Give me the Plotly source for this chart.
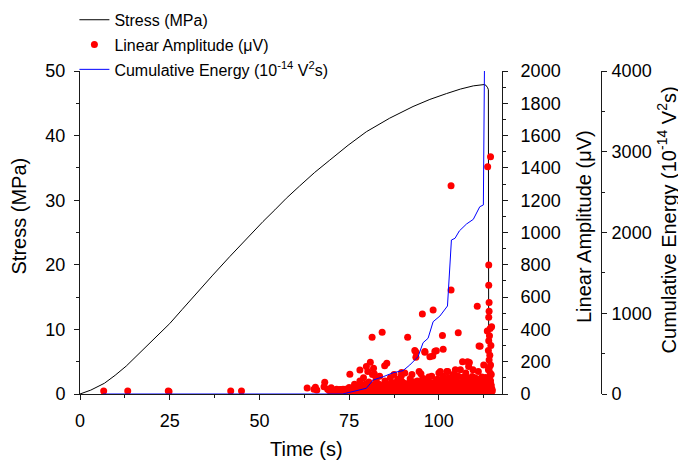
import plotly.graph_objects as go

# ---------------- data ----------------
stress_time = [0, 3.0, 6.8, 9.8, 12.9, 15.6, 18.5, 21.7, 25.0, 28.5, 32.4, 37.0, 41.7,
               46.3, 51.0, 54.3, 57.5, 61.2, 65.4, 69.6, 74.7, 79.8, 86.3, 92.8, 97.5,
               102.1, 106.0, 109.6, 111.5, 112.6, 113.1, 113.4, 113.6, 113.8, 113.9]
stress_mpa = [0, 0.6, 1.66, 2.9, 4.33, 5.8, 7.3, 9.0, 10.9, 13.1, 15.6, 18.4, 21.25,
              24.0, 26.7, 28.5, 30.3, 32.2, 34.3, 36.2, 38.5, 40.6, 42.7, 44.5, 45.6,
              46.5, 47.2, 47.7, 47.85, 47.9, 47.8, 47.6, 47.4, 47.1, 0]

energy_time = [6.4, 24.6, 45.0, 63.3, 73.2, 79.8, 81.7, 84.5, 87.3, 90.0, 91.9, 94.2,
               95.6, 97.0, 98.4, 100.3, 102.4, 103.5, 104.5, 105.7, 107.7, 109.6,
               111.4, 112.4, 112.7]
energy_val = [0, 0, 0, 0, 0, 71, 173, 214, 264, 289, 359, 462,
              635, 690, 895, 966, 1090, 1907, 1928, 2019, 2105, 2163,
              2319, 2341, 4000]

amp_time = [
    6.6, 13.3, 24.6, 24.8, 42.0, 45.0,
    63.3, 65.2, 65.6, 66.0, 68.2, 68.0, 69.0, 69.5, 70.0, 70.5, 71.0, 71.5, 72.0, 72.5,
    73.0, 73.5, 74.0, 74.5, 75.0, 75.2, 75.5, 76.0, 76.5, 77.0, 77.5, 78.0, 78.0, 78.5,
    79.0, 79.5, 79.8, 80.2, 80.5, 80.9, 81.4, 81.5, 81.8, 82.0, 82.5, 83.0, 83.5, 84.2,
    84.9, 85.5, 85.0, 86.0, 86.5, 87.0, 87.5, 88.0, 88.5, 89.0, 89.5, 89.6, 90.0, 90.5,
    91.3, 91.0, 92.0, 92.5, 93.3, 93.6, 93.6, 93.0, 94.0, 94.5, 95.0, 95.4, 95.0, 96.1,
    96.1, 96.5, 97.5, 98.3, 98.4, 98.9, 99.3, 98.0, 99.0, 100.0, 100.4, 100.5, 101.0,
    101.2, 101.5, 102.0, 102.2, 102.5, 103.4, 103.4, 103.0, 104.0, 104.5, 104.6, 105.4,
    105.0, 106.0, 106.6, 107.0, 107.5, 108.0, 108.3, 108.5, 109.0, 109.5, 110.7, 110.0,
    111.0, 111.2, 111.5, 112.0, 112.5,
    113.6, 114.4, 113.9, 113.9, 114.0, 114.0, 113.9, 114.7, 113.5, 114.3, 114.1, 113.9,
    114.5, 113.8, 114.2, 114.0, 114.4, 113.8, 114.6, 114.1, 113.9, 114.5, 114.2, 113.7,
    114.8, 114.3, 113.6, 114.0,
    70.2, 71.0, 71.8, 72.6, 73.4, 74.2, 75.0, 75.8, 76.6, 77.4, 78.2, 79.0, 79.8, 80.6,
    81.4, 82.2, 83.0, 83.8, 84.6, 85.4, 86.2, 87.0, 87.8, 88.6, 89.4, 90.2, 91.0, 91.8,
    92.6, 93.4, 94.2, 95.0, 95.8, 96.6, 97.4, 98.2, 99.0, 99.8, 100.6, 101.4, 102.2,
    103.0, 103.8, 104.6, 105.4, 106.2, 107.0, 107.8, 108.6, 109.4, 110.2, 111.0, 111.8,
    112.6, 113.4, 114.2, 114.9,
    72.4, 73.3, 74.2, 75.1, 76.0, 76.9, 77.8, 78.7, 79.6, 80.5, 81.4, 82.3, 83.2, 84.1,
    85.0, 85.9, 86.8, 87.7, 88.6, 89.5, 90.4, 91.3, 92.2, 93.1, 94.0, 94.9, 95.8, 96.7,
    97.6, 98.5, 99.4, 100.3, 101.2, 102.1, 103.0, 103.9, 104.8, 105.7, 106.6, 107.5,
    108.4, 109.3, 110.2, 111.1, 112.0, 112.9, 113.8, 114.7,
    77.3, 78.4, 79.5, 80.6, 81.7, 82.8, 83.9, 85.0, 86.1, 87.2, 88.3, 89.4, 90.5, 91.6,
    92.7, 93.8, 94.9, 96.0, 97.1, 98.2, 99.3, 100.4, 101.5, 102.6, 103.7, 104.8, 105.9,
    107.0, 108.1, 109.2, 110.3, 111.4, 112.5, 113.5, 114.6,
    82.0, 83.1, 84.2, 85.3, 86.4, 87.5, 88.6, 89.7, 90.8, 91.9, 93.0, 94.1, 95.2, 96.3,
    97.4, 98.5, 99.6, 100.7, 101.8, 102.9, 104.0, 105.1, 106.2, 107.3, 108.4, 109.5,
    110.6, 111.7, 112.8, 113.9,
    88.0, 89.9, 91.2, 93.0, 94.6, 96.2, 97.8, 99.0, 100.2, 101.8, 103.2, 104.4, 105.8,
    107.2, 108.6, 109.8, 111.0, 112.2, 113.2, 114.4,
    95.5, 97.2, 99.6, 101.1, 102.8, 104.1, 105.3, 106.7, 108.0, 109.3, 110.5, 112.0,
    113.0, 114.2,
]
amp_uv = [
    18, 18, 18, 15, 18, 18,
    37, 30, 42, 25, 72, 45, 30, 20, 38, 25, 18, 30, 20, 28,
    22, 18, 30, 22, 40, 122, 25, 35, 60, 30, 50, 149, 80, 40,
    100, 60, 170, 140, 75, 196, 351, 120, 160, 125, 90, 60, 110, 382,
    175, 190, 80, 55, 100, 70, 120, 50, 90, 60, 110, 133, 70, 130,
    351, 60, 95, 120, 270, 227, 260, 60, 80, 140, 125, 495, 70, 263,
    258, 90, 230, 235, 520, 265, 268, 110, 60, 130, 140, 80, 363,
    277, 100, 60, 140, 140, 644, 1290, 90, 120, 70, 150, 380,
    100, 150, 200, 90, 130, 200, 170, 195, 80, 150, 543, 100,
    140, 297, 295, 90, 180,
    1407, 1469, 799, 673, 566, 512, 475, 417, 390, 405, 360, 330,
    300, 270, 240, 210, 180, 150, 120, 100, 80, 60, 40, 20,
    30, 130, 95, 160,
    14, 18, 12, 20, 15, 22, 13, 19, 16, 21, 12, 18, 15, 20,
    14, 19, 12, 22, 16, 18, 13, 21, 15, 19, 12, 20, 16, 18,
    14, 22, 13, 19, 15, 21, 12, 18, 16, 20, 14, 19, 13,
    22, 15, 18, 12, 20, 16, 19, 14, 21, 13, 18, 15,
    20, 16, 14, 18,
    26, 30, 24, 32, 27, 29, 33, 25, 31, 28, 34, 26, 30, 32,
    27, 35, 29, 31, 26, 33, 28, 30, 34, 27, 32, 29, 35, 28,
    31, 26, 33, 30, 28, 34, 29, 32, 27, 35, 30, 33,
    28, 31, 34, 29, 32, 30, 33, 31,
    38, 45, 40, 52, 36, 48, 42, 55, 39, 47, 44, 50, 37, 53,
    41, 48, 45, 56, 38, 50, 46, 54, 40, 58, 44, 52, 48,
    57, 42, 55, 49, 60, 46, 54, 50,
    58, 64, 55, 62, 60, 66, 57, 63, 61, 68, 59, 65, 62, 70,
    60, 67, 63, 71, 65, 69, 64, 72, 66, 70, 68, 73, 67, 71, 69, 74,
    66, 72, 64, 75, 68, 80, 70, 74, 66, 82, 72, 78, 68,
    85, 74, 80, 70, 88, 76, 82,
    98, 105, 92, 110, 100, 96, 112, 104, 99, 108, 95, 106,
    102, 110,
]

FONT = "Arial, Liberation Sans, sans-serif"
AX = "#1a1a1a"

fig = go.Figure()
fig.add_trace(go.Scatter(x=stress_time, y=stress_mpa, mode="lines", name="Stress (MPa)",
                         legendgroup="a",
                         line=dict(color="black", width=1), yaxis="y"))
fig.add_trace(go.Scatter(x=amp_time, y=amp_uv, mode="markers", name="Linear Amplitude (μV)",
                         legendgroup="b",
                         marker=dict(color="#ff0000", size=7, line=dict(width=0)), yaxis="y2"))
fig.add_trace(go.Scatter(x=energy_time, y=energy_val, mode="lines",
                         legendgroup="c",
                         name="Cumulative Energy (10<sup>-14</sup> V<sup>2</sup>s)",
                         line=dict(color="#0000ff", width=1), yaxis="y3"))

tickfont = dict(family=FONT, size=18, color="black")
titlefont = dict(family=FONT, size=20, color="black")

titles = [
    dict(text="Time (s)", x=0.4045, y=-0.1703, textangle=0),
    dict(text="Stress (MPa)", x=-0.1098, y=0.5511, textangle=-90),
    dict(text="Linear Amplitude (μV)", x=0.9, y=0.517, textangle=-90),
    dict(text="Cumulative Energy (10<sup>-14</sup> V<sup>2</sup>s)", x=1.049, y=0.5387,
         textangle=-90),
]
annotations = [dict(xref="paper", yref="paper", xanchor="center", yanchor="middle",
                    showarrow=False, font=titlefont, **t) for t in titles]

fig.update_layout(
    width=678, height=456,
    margin=dict(l=72, r=46, t=63, b=70, autoexpand=False),
    paper_bgcolor="white", plot_bgcolor="white",
    font=dict(family=FONT, color="black"),
    showlegend=True,
    annotations=annotations,
    legend=dict(x=-0.010, y=1.211, xanchor="left", yanchor="top",
                bgcolor="rgba(0,0,0,0)", font=dict(family=FONT, size=16),
                traceorder="grouped", tracegroupgap=1, itemwidth=30),
    xaxis=dict(domain=[0, 0.7536], range=[0, 117.6], dtick=25, tick0=0,
               showgrid=False, zeroline=False, showline=True, linecolor=AX, linewidth=1,
               ticks="outside", ticklen=5, tickcolor=AX, tickfont=tickfont,
               minor=dict(dtick=12.5, ticks="outside", ticklen=3, tickcolor=AX),
               ticklabelstandoff=5),
    yaxis=dict(range=[0, 50], dtick=10, showgrid=False, zeroline=False,
               showline=True, linecolor=AX, linewidth=1,
               ticks="outside", ticklen=5, tickcolor=AX, tickfont=tickfont,
               minor=dict(dtick=5, ticks="outside", ticklen=3, tickcolor=AX),
               ticklabelstandoff=5),
    yaxis2=dict(range=[0, 2000], dtick=200, overlaying="y", side="right", anchor="x",
                showgrid=False, zeroline=False, showline=True, linecolor=AX, linewidth=1,
                ticks="outside", ticklen=5, tickcolor=AX, tickfont=tickfont,
                minor=dict(dtick=100, ticks="outside", ticklen=3, tickcolor=AX),
                ticklabelstandoff=9),
    yaxis3=dict(range=[0, 4000], dtick=1000, overlaying="y", side="right", anchor="free",
                position=0.9304,
                showgrid=False, zeroline=False, showline=True, linecolor=AX, linewidth=1,
                ticks="outside", ticklen=5, tickcolor=AX, tickfont=tickfont,
                minor=dict(dtick=500, ticks="outside", ticklen=3, tickcolor=AX),
                ticklabelstandoff=1),
)

fig.write_html("out.html")
